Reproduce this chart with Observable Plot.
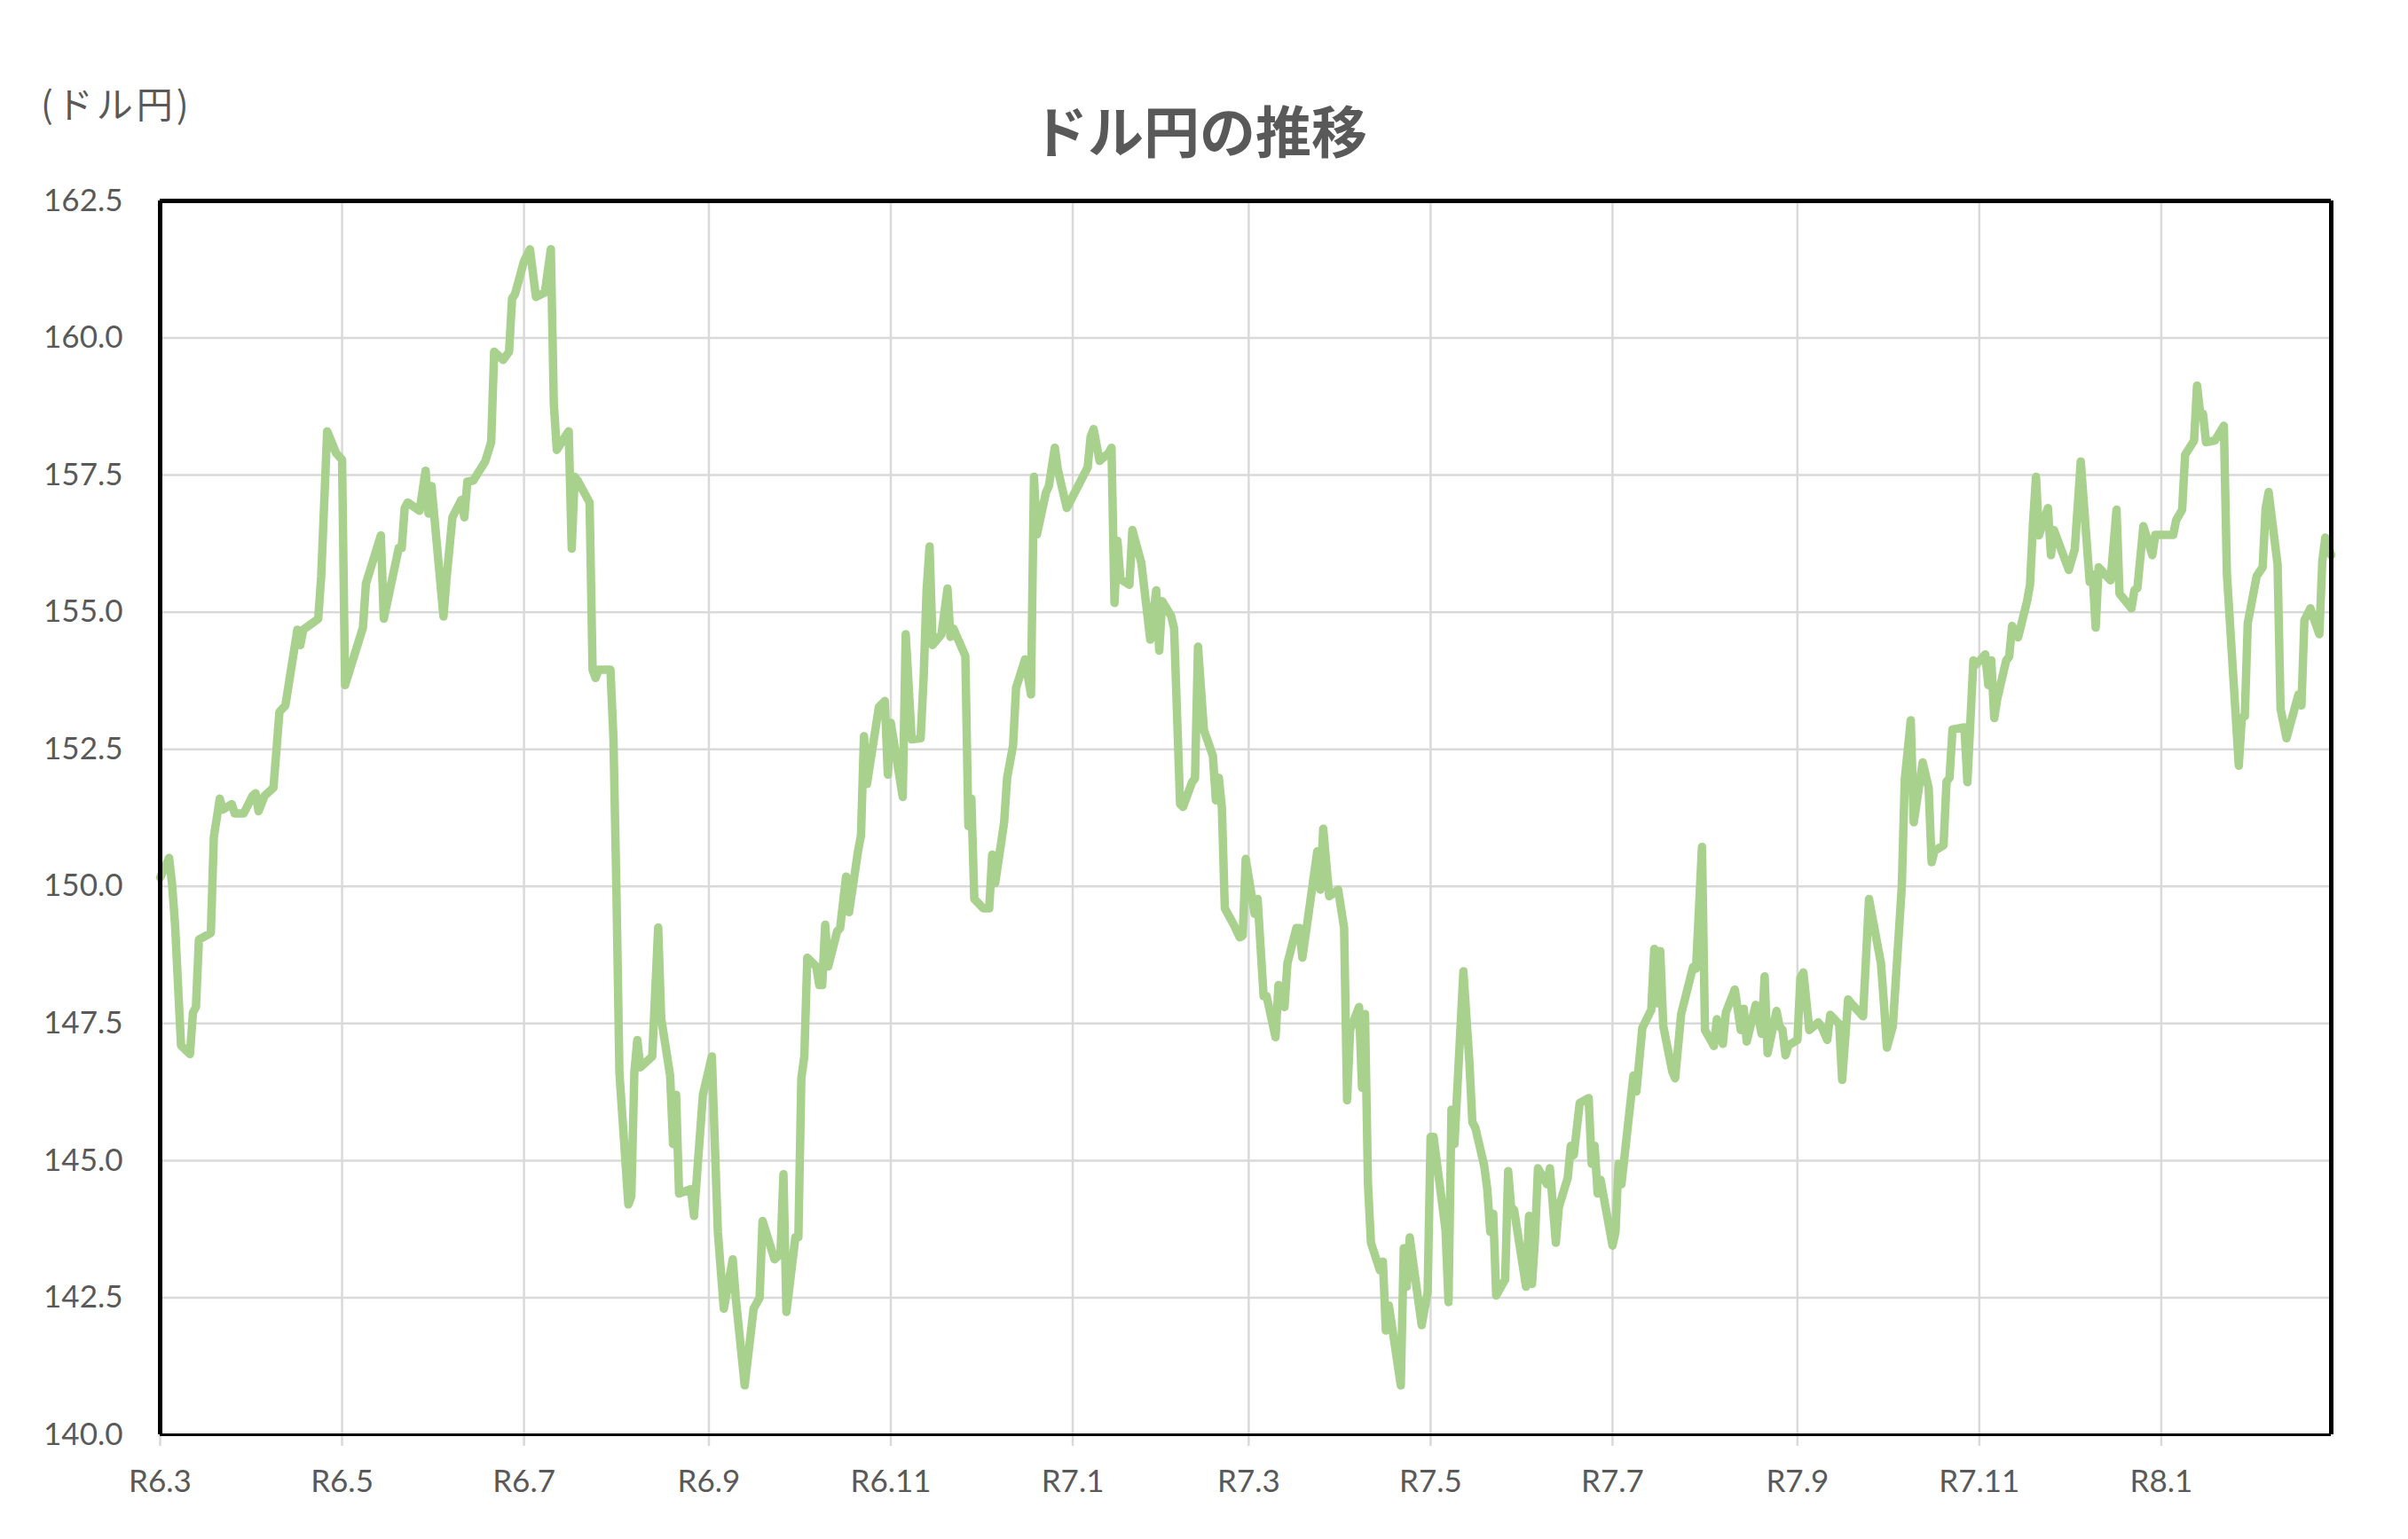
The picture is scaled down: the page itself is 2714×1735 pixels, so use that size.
<!DOCTYPE html>
<html>
<head>
<meta charset="utf-8">
<script src="https://cdn.jsdelivr.net/npm/d3@7"></script>
<script src="https://cdn.jsdelivr.net/npm/@observablehq/plot@0.6"></script>
<style>
  html, body { margin: 0; padding: 0; background: #ffffff; }
  #wrap { position: relative; width: 2714px; height: 1735px; overflow: hidden; background: #ffffff; }
  #unit { position: absolute; left: 46px; top: 95px; font-family: "Noto Sans CJK JP", sans-serif; font-size: 41px; line-height: 1; color: #595959; letter-spacing: 4px; white-space: nowrap; }
  #title { position: absolute; left: 1352px; top: 113px; transform: translateX(-50%); font-family: "Noto Sans CJK JP", sans-serif; font-weight: 700; font-size: 63px; line-height: 1; color: #595959; white-space: nowrap; }
  #chart { position: absolute; left: 0; top: 0; }
</style>
</head>
<body>
<div id="wrap">
  <div id="chart"></div>
  <div id="unit">(ドル円)</div>
  <div id="title">ドル円の推移</div>
</div>
<script>
// ---- data: USD/JPY daily ----
const dates2024a = [
  "2024-03-01","2024-03-04","2024-03-05","2024-03-06","2024-03-08","2024-03-11","2024-03-12","2024-03-13","2024-03-14","2024-03-18",
  "2024-03-19","2024-03-21","2024-03-22","2024-03-25","2024-03-26","2024-03-29","2024-04-01","2024-04-02","2024-04-03","2024-04-05",
  "2024-04-08","2024-04-10","2024-04-12","2024-04-16","2024-04-17","2024-04-18","2024-04-22","2024-04-23","2024-04-24","2024-04-26",
  "2024-04-29","2024-05-01","2024-05-02","2024-05-08","2024-05-09","2024-05-14","2024-05-15","2024-05-17","2024-05-20","2024-05-21",
  "2024-05-22","2024-05-23","2024-05-27","2024-05-29","2024-05-30","2024-05-31","2024-06-04","2024-06-05","2024-06-07","2024-06-10",
  "2024-06-11","2024-06-12","2024-06-14","2024-06-18","2024-06-20","2024-06-21","2024-06-24","2024-06-26","2024-06-27","2024-06-28",
  "2024-07-01","2024-07-03","2024-07-05","2024-07-08","2024-07-10","2024-07-11","2024-07-12","2024-07-16","2024-07-17","2024-07-18",
  "2024-07-19","2024-07-23","2024-07-24","2024-07-25","2024-07-26","2024-07-30","2024-07-31","2024-08-01","2024-08-02","2024-08-05",
  "2024-08-06","2024-08-07","2024-08-08","2024-08-09","2024-08-13","2024-08-15","2024-08-16","2024-08-19","2024-08-20","2024-08-21",
  "2024-08-22","2024-08-26","2024-08-27","2024-08-30","2024-09-02","2024-09-04","2024-09-06","2024-09-09","2024-09-10","2024-09-13",
  "2024-09-16","2024-09-18","2024-09-19","2024-09-23","2024-09-25","2024-09-26","2024-09-27"
];
const rates2024a = [
  150.16,150.52,150.04,149.3,147.1,146.94,147.7,147.8,149.03,149.15,
  150.9,151.6,151.4,151.5,151.33,151.33,151.65,151.7,151.37,151.65,
  151.8,153.18,153.3,154.68,154.4,154.68,154.84,154.88,155.65,158.3,
  157.9,157.78,153.67,154.72,155.52,156.4,154.88,155.4,156.17,156.17,
  156.9,157.0,156.85,157.58,156.8,157.3,154.92,155.6,156.73,157.05,
  156.73,157.38,157.4,157.75,158.1,159.75,159.6,159.75,160.72,160.8,
  161.4,161.62,160.75,160.83,161.62,158.8,157.96,158.3,156.16,157.47,
  157.4,157.0,153.95,153.8,153.95,153.95,152.7,149.9,146.6,144.2,
  144.35,146.6,147.2,146.7,146.9,149.25,147.6,146.55,145.3,146.2,
  144.4,144.48,143.99,146.2,146.9,143.7,142.3,143.2,142.5,140.9,
  142.3,142.5,143.9,143.2,143.3,144.75,142.24
];
const dates2024b = [
  "2024-09-30","2024-10-01","2024-10-02","2024-10-03","2024-10-04","2024-10-07","2024-10-08","2024-10-09","2024-10-10","2024-10-11",
  "2024-10-14","2024-10-15","2024-10-17","2024-10-18","2024-10-21","2024-10-22","2024-10-23","2024-10-24","2024-10-28","2024-10-30",
  "2024-10-31","2024-11-01","2024-11-05","2024-11-06","2024-11-08","2024-11-11","2024-11-12","2024-11-13","2024-11-14","2024-11-15",
  "2024-11-18","2024-11-20","2024-11-21","2024-11-22","2024-11-26","2024-11-27","2024-11-28","2024-11-29","2024-12-02","2024-12-04",
  "2024-12-05","2024-12-06","2024-12-09","2024-12-10","2024-12-12","2024-12-13","2024-12-16","2024-12-18","2024-12-19","2024-12-20",
  "2024-12-23","2024-12-24","2024-12-26","2024-12-27","2024-12-30"
];
const rates2024b = [
  143.6,143.6,146.5,146.9,148.7,148.54,148.2,148.2,149.3,148.54,
  149.18,149.24,150.18,149.53,150.64,150.93,152.74,151.87,153.27,153.38,
  152.04,152.98,151.63,154.6,152.68,152.7,153.8,155.4,156.2,154.4,
  154.6,155.43,154.55,154.7,154.2,151.1,151.6,149.77,149.6,149.6,
  150.58,150.06,151.17,151.98,152.57,153.62,154.14,153.5,157.47,156.42,
  157.18,157.3,158.0,157.6,156.9
];
const dates2025a = [
  "2025-01-06","2025-01-07","2025-01-08","2025-01-10","2025-01-13","2025-01-14","2025-01-15","2025-01-16","2025-01-17","2025-01-20",
  "2025-01-21","2025-01-24","2025-01-27","2025-01-29","2025-01-30","2025-01-31","2025-02-03","2025-02-04","2025-02-06","2025-02-07",
  "2025-02-10","2025-02-11","2025-02-12","2025-02-14","2025-02-17","2025-02-18","2025-02-19","2025-02-20","2025-02-21","2025-02-24",
  "2025-02-26","2025-02-27","2025-02-28","2025-03-03","2025-03-04","2025-03-06","2025-03-07","2025-03-10","2025-03-11","2025-03-13",
  "2025-03-14","2025-03-17","2025-03-18","2025-03-19","2025-03-21","2025-03-24","2025-03-25","2025-03-26","2025-03-28","2025-03-31",
  "2025-04-02","2025-04-03","2025-04-04","2025-04-07","2025-04-08","2025-04-09","2025-04-10","2025-04-11","2025-04-14","2025-04-15",
  "2025-04-16","2025-04-17","2025-04-18","2025-04-21","2025-04-22","2025-04-23","2025-04-24","2025-04-28","2025-04-30"
];
const rates2025a = [
  157.64,158.2,158.34,157.76,157.9,158.0,155.17,156.3,155.6,155.5,
  156.5,155.9,154.5,155.4,154.3,155.2,154.93,154.7,151.5,151.45,
  151.9,151.97,154.37,152.85,152.38,151.57,151.98,151.45,149.6,149.3,
  149.07,149.1,150.5,149.5,149.77,148.0,148.0,147.25,148.2,147.8,
  148.6,149.24,149.24,148.7,149.47,150.64,149.94,151.05,149.82,149.94,
  149.24,146.1,147.38,147.8,146.33,147.67,144.57,143.5,143.0,143.16,
  141.9,142.36,142.0,140.9,143.4,142.7,143.6,142.0,142.6
];
const dates2025b = [
  "2025-05-01","2025-05-02","2025-05-06","2025-05-07","2025-05-08","2025-05-09","2025-05-12","2025-05-14","2025-05-15","2025-05-16",
  "2025-05-19","2025-05-20","2025-05-21","2025-05-22","2025-05-23","2025-05-26","2025-05-27","2025-05-28","2025-05-29","2025-06-02",
  "2025-06-03","2025-06-04","2025-06-05","2025-06-06","2025-06-09","2025-06-10","2025-06-12","2025-06-13","2025-06-16","2025-06-17",
  "2025-06-18","2025-06-20","2025-06-23","2025-06-24","2025-06-25","2025-06-26","2025-06-27","2025-07-01","2025-07-02","2025-07-03",
  "2025-07-04","2025-07-08","2025-07-09","2025-07-11","2025-07-14","2025-07-15","2025-07-16","2025-07-17","2025-07-18","2025-07-21",
  "2025-07-22","2025-07-24","2025-07-28","2025-07-29","2025-07-31","2025-08-01","2025-08-04","2025-08-05","2025-08-06","2025-08-07",
  "2025-08-08","2025-08-11"
];
const rates2025b = [
  145.43,145.43,143.74,142.42,145.93,145.3,148.45,146.8,145.7,145.6,
  144.9,144.48,143.7,144.03,142.54,142.83,144.81,144.15,144.1,142.7,
  143.99,142.75,143.57,144.86,144.57,144.86,143.5,144.15,144.69,145.27,
  145.1,146.05,146.14,144.94,145.27,144.4,144.65,143.45,143.7,144.94,
  144.57,146.55,146.26,147.42,147.75,148.86,147.87,148.82,147.46,146.63,
  146.5,147.67,148.53,148.5,150.72,147.38,147.09,147.58,147.3,147.13,
  147.7,148.12
];
const dates2025c = [
  "2025-08-13","2025-08-14","2025-08-15","2025-08-18","2025-08-20","2025-08-21","2025-08-22","2025-08-25","2025-08-26","2025-08-27",
  "2025-08-28","2025-08-29","2025-09-01","2025-09-02","2025-09-03","2025-09-05","2025-09-08","2025-09-09","2025-09-11","2025-09-12",
  "2025-09-15","2025-09-16","2025-09-18","2025-09-19","2025-09-23","2025-09-25","2025-09-29","2025-09-30","2025-10-01","2025-10-03",
  "2025-10-06","2025-10-07","2025-10-09","2025-10-10","2025-10-13","2025-10-15","2025-10-16","2025-10-17","2025-10-20","2025-10-21",
  "2025-10-22","2025-10-23","2025-10-27","2025-10-28","2025-10-30","2025-10-31","2025-11-03","2025-11-04","2025-11-05","2025-11-06",
  "2025-11-07","2025-11-10","2025-11-11","2025-11-12","2025-11-14","2025-11-17","2025-11-18","2025-11-19","2025-11-20","2025-11-21",
  "2025-11-24","2025-11-25","2025-11-26","2025-12-01","2025-12-03","2025-12-05","2025-12-08","2025-12-09","2025-12-10","2025-12-11",
  "2025-12-15","2025-12-17","2025-12-18","2025-12-22","2025-12-23","2025-12-24","2025-12-26","2025-12-29","2025-12-30"
];
const rates2025c = [
  147.38,147.77,147.17,147.84,147.31,148.36,146.96,147.73,147.45,147.38,
  146.92,147.1,147.2,148.33,148.43,147.38,147.52,147.45,147.2,147.66,
  147.49,146.47,147.94,147.87,147.63,149.77,148.6,147.87,147.06,147.45,
  150.0,151.95,153.03,151.17,152.26,151.8,150.44,150.65,150.75,151.91,
  151.98,152.86,152.9,151.9,154.12,154.05,154.23,153.67,154.12,153.07,
  153.42,154.12,154.19,154.75,154.54,155.2,155.5,156.63,157.47,156.4,
  156.9,156.04,156.5,155.77,156.15,157.75,155.55,155.69,154.72,155.82,
  155.58,156.87,155.34,155.07,155.4,155.44,156.57,156.04,156.41
];
const dates2026 = [
  "2026-01-05","2026-01-06","2026-01-08","2026-01-09","2026-01-12","2026-01-13","2026-01-14","2026-01-15","2026-01-16","2026-01-19",
  "2026-01-22","2026-01-23","2026-01-27","2026-01-28","2026-01-29","2026-01-30","2026-02-02","2026-02-04","2026-02-05","2026-02-06",
  "2026-02-09","2026-02-10","2026-02-12","2026-02-16","2026-02-17","2026-02-18","2026-02-20","2026-02-23","2026-02-24","2026-02-25",
  "2026-02-27"
];
const rates2026 = [
  156.41,156.68,156.87,157.87,158.13,159.13,158.65,158.62,158.1,158.13,
  158.4,155.71,152.2,153.08,153.1,154.8,155.66,155.82,156.9,157.19,
  155.87,153.24,152.7,153.5,153.3,154.85,155.07,154.6,155.93,156.36,
  156.04
];

// axis ticks
const xTickDates = ["2024-03-01","2024-05-01","2024-07-01","2024-09-01","2024-11-01","2025-01-01",
                    "2025-03-01","2025-05-01","2025-07-01","2025-09-01","2025-11-01","2026-01-01"];
const xTickLabels = ["R6.3","R6.5","R6.7","R6.9","R6.11","R7.1","R7.3","R7.5","R7.7","R7.9","R7.11","R8.1"];
const yTicks = [140, 142.5, 145, 147.5, 150, 152.5, 155, 157.5, 160, 162.5];
const xStart = "2024-03-01";
const xEnd = "2026-02-27";

// ---- build ----
const allDates = [...dates2024a, ...dates2024b, ...dates2025a, ...dates2025b, ...dates2025c, ...dates2026];
const allRates = [...rates2024a, ...rates2024b, ...rates2025a, ...rates2025b, ...rates2025c, ...rates2026];
const data = allDates.map((d, i) => ({date: new Date(d + "T00:00:00Z"), rate: allRates[i]}));
const tickDates = xTickDates.map(d => new Date(d + "T00:00:00Z"));
const labelOf = new Map(tickDates.map((d, i) => [+d, xTickLabels[i]]));
const xDomain = [new Date(xStart + "T00:00:00Z"), new Date(xEnd + "T00:00:00Z")];

const chart = Plot.plot({
  width: 2714,
  height: 1735,
  marginLeft: 180,
  marginRight: 87,
  marginTop: 226,
  marginBottom: 118,
  style: {fontFamily: "Lato, 'Noto Sans', sans-serif", fontSize: "35px", color: "#595959", background: "transparent", overflow: "visible"},
  x: {type: "utc", domain: xDomain},
  y: {domain: [140, 162.5]},
  marks: [
    Plot.ruleY(yTicks, {stroke: "#D9D9D9", strokeWidth: 2.5}),
    Plot.ruleX(tickDates, {stroke: "#D9D9D9", strokeWidth: 2.5}),
    Plot.axisY(yTicks, {tickSize: 0, tickPadding: 42, tickFormat: d3.format(".1f"), label: null, fill: "#595959"}),
    Plot.axisX(tickDates, {tickSize: 13, tickPadding: 27, tickFormat: d => labelOf.get(+d), stroke: "#D9D9D9", strokeWidth: 2.5, label: null, fill: "#595959"}),
    Plot.lineY(data, {x: "date", y: "rate", stroke: "#A9D18E", strokeWidth: 9.5, strokeLinejoin: "round", strokeLinecap: "round"}),
    Plot.ruleY([162.5], {stroke: "#000000", strokeWidth: 5}),
    Plot.ruleY([140], {stroke: "#000000", strokeWidth: 3}),
    Plot.ruleX(xDomain, {stroke: "#000000", strokeWidth: 5})
  ]
});
document.getElementById("chart").appendChild(chart);
</script>
</body>
</html>
